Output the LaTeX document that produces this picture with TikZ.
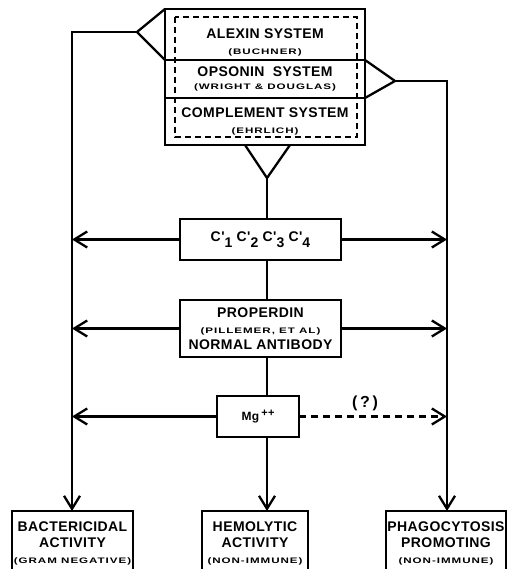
\documentclass[tikz,border=0pt]{standalone}
\usepackage{fontspec}
\setmainfont{Liberation Sans}
\newfontfamily\letterfont[LetterSpace=3]{Liberation Sans}
\newfontfamily\smallfont[FakeStretch=1.45,LetterSpace=12]{Liberation Sans}
\usetikzlibrary{arrows.meta, positioning, calc}
\newcommand{\subtxt}[1]{{\smallfont\bfseries\fontsize{8}{9}\selectfont #1}}
\newcommand{\cprime}[1]{C'\raisebox{-6pt}{\fontsize{14}{14}\selectfont #1}}

\begin{document}
\begin{tikzpicture}[
    x=1pt, y=-1pt,
    box/.style={rectangle, draw, line width=2.3pt, outer sep=0pt, inner sep=1pt, align=center, font=\letterfont\bfseries\fontsize{14}{16}\selectfont},
    arrow/.style={-{Straight Barb[length=13pt,width=16pt]}, line width=2.3pt},
    line/.style={line width=2.3pt},
    dashbox/.style={line width=1.8pt, dash pattern=on 6pt off 4pt}
]
\useasboundingbox (0,0) rectangle (522,569);
\clip (0,0) rectangle (522,569);

\node[box, minimum width=200pt, minimum height=51pt] (alexin) at (265,34.5) {\rule{0pt}{26pt}ALEXIN SYSTEM\\ \subtxt{(BUCHNER)}};
\node[box, minimum width=200pt, minimum height=38pt, below=0pt of alexin] (opsonin) {OPSONIN\hspace{4pt} SYSTEM\\[-3pt] \subtxt{(WRIGHT \& DOUGLAS)}};
\node[box, minimum width=200pt, minimum height=47pt, below=0pt of opsonin] (complement) {COMPLEMENT SYSTEM\\ \subtxt{(EHRLICH)}};
\draw[dashbox] ($(alexin.north west)+(10,8)$) rectangle ($(complement.south east)+(-8,-8)$);

\coordinate (lapex) at (137,32);
\coordinate (ltop) at (72,32);
\coordinate (rapex) at (395,81);
\coordinate (rtop) at (447,81);
\coordinate (bapex) at (267,178);

\node[box, minimum width=161pt, minimum height=41pt] (comps) at (260.5,239.5) {\cprime{1}\ \cprime{2}\ \cprime{3}\ \cprime{4}};
\node[box, minimum width=161pt, minimum height=57pt] (properdin) at (260.5,328.5) {PROPERDIN\\ \subtxt{(PILLEMER, ET AL)}\\ NORMAL ANTIBODY};
\node[box, minimum width=82pt, minimum height=41pt] (mg) at (258,416.5) {\fontsize{12}{13}\selectfont Mg\,\raisebox{4pt}{\fontsize{11}{11}\selectfont ++}};
\node[font=\letterfont\bfseries\fontsize{16}{16}\selectfont] (query) at (365,403) {(\,?\,)};

\node[box, minimum width=121pt, minimum height=64pt] (bact) at (72.5,543) {BACTERICIDAL\\ ACTIVITY\\ \subtxt{(GRAM NEGATIVE)}};
\node[box, minimum width=106pt, minimum height=64pt] (hemo) at (255,543) {HEMOLYTIC\\ ACTIVITY\\ \subtxt{(NON-IMMUNE)}};
\node[box, minimum width=120pt, minimum height=64pt] (phago) at (446,543) {PHAGOCYTOSIS\\ PROMOTING\\ \subtxt{(NON-IMMUNE)}};

% triangles
\draw[line] (alexin.north west) -- (lapex) -- (alexin.south west);
\draw[line] (opsonin.north east) -- (rapex) -- (opsonin.south east);
\draw[line] ($(bapex |- complement.south)+(-22,0)$) -- (bapex) -- ($(bapex |- complement.south)+(23,0)$);

% side lines
\draw[arrow] (lapex) -- (ltop) -- (ltop |- bact.north);
\draw[arrow] (rapex) -- (rtop) -- (rtop |- phago.north);

% centre line
\draw[line] (bapex) -- (bapex |- comps.north);
\draw[line] (bapex |- comps.south) -- (bapex |- properdin.north);
\draw[line] (bapex |- properdin.south) -- (bapex |- mg.north);
\draw[arrow] (bapex |- mg.south) -- (bapex |- hemo.north);

% branches
\draw[arrow] (comps.west) -- (comps.west -| ltop);
\draw[arrow] (comps.east) -- (comps.east -| rtop);
\draw[arrow] (properdin.west) -- (properdin.west -| ltop);
\draw[arrow] (properdin.east) -- (properdin.east -| rtop);
\draw[arrow] (mg.west) -- (mg.west -| ltop);
\draw[arrow, dash pattern=on 7pt off 5pt] (mg.east) -- (mg.east -| rtop);
\end{tikzpicture}
\end{document}
